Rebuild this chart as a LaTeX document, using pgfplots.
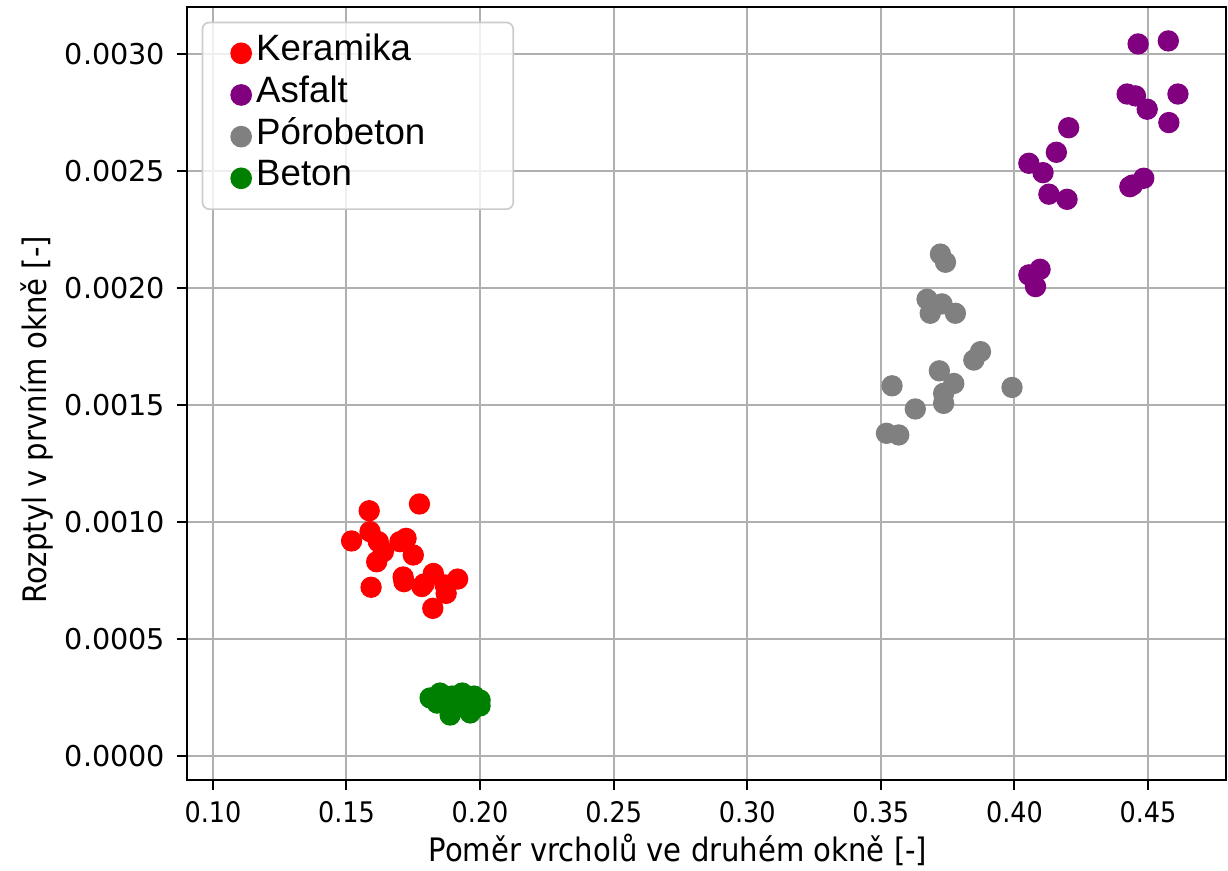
\documentclass[border=0pt]{standalone}
\usepackage{pgfplots}
\pgfplotsset{compat=1.18}
\usepackage{fontspec}
\setmainfont{DejaVu Sans}
\newfontfamily\cond{DejaVu Sans Condensed}
\newfontfamily\leg{Liberation Sans}
\definecolor{mred}{RGB}{255,0,0}
\definecolor{mpurple}{RGB}{128,0,128}
\definecolor{mgray}{RGB}{128,128,128}
\definecolor{mgreen}{RGB}{0,128,0}
\definecolor{gridc}{RGB}{176,176,176}
\begin{document}
\begin{tikzpicture}
\useasboundingbox (-56.1pt,-27.3pt) rectangle (312.3pt,234pt);
\begin{axis}[
  at={(0,0)}, anchor=south west,
  width=311.7pt, height=231.9pt, scale only axis,
  xmin=0.0903, xmax=0.4792, ymin=-0.0001026, ymax=0.003201,
  xtick={0.10,0.15,0.20,0.25,0.30,0.35,0.40,0.45},
  ytick={0,0.0005,0.0010,0.0015,0.0020,0.0025,0.0030},
  scaled x ticks=false, scaled y ticks=false,
  xticklabel style={/pgf/number format/fixed,/pgf/number format/fixed zerofill,/pgf/number format/precision=2, font=\cond\fontsize{8.5}{10}\selectfont},
  yticklabel style={/pgf/number format/fixed,/pgf/number format/fixed zerofill,/pgf/number format/precision=4, font=\fontsize{8.6}{10}\selectfont},
  /pgf/number format/assume math mode=true,
  tick align=outside, tick pos=left,
  major tick length=3pt,
  every tick/.style={black, line width=0.6pt},
  axis line style={black, line width=0.8pt},
  grid=major, major grid style={gridc, line width=0.6pt},
  xlabel={Poměr vrcholů ve druhém okně [-]},
  ylabel={Rozptyl v prvním okně [-]},
  label style={font=\cond\fontsize{9.7}{11}\selectfont},
  xlabel style={at={(axis description cs:0.4726,0)}, anchor=center, yshift=-21pt},
  ylabel style={at={(axis description cs:0,0.466)}, anchor=center, rotate=0, yshift=45pt},
  legend cell align=left,
  legend image code/.code={\draw[#1, fill opacity=1, draw opacity=1] plot coordinates {(0pt,0pt)};},
  legend style={at={(axis description cs:0,1)}, anchor=north west,
    xshift=4.4pt, yshift=-4.4pt,
    draw=black!20, line width=0.5pt, rounded corners=2pt,
    fill=white, fill opacity=0.8, text opacity=1,
    font=\leg\fontsize{11}{12}\selectfont,
    inner xsep=8.6pt, inner ysep=3pt, row sep=0pt, column sep=0pt,
    nodes={text height=8pt, text depth=3.5pt, inner ysep=0.5pt, inner xsep=1.5pt}},
  every axis plot/.append style={only marks, mark=*, mark size=3pt},
]
\addplot[mred, mark options={draw=mred, fill=mred}] coordinates {
(0.1519,0.000919) (0.1585,0.001048) (0.1773,0.001077) (0.1588,0.000959)
(0.1619,0.000916) (0.1638,0.000873) (0.1613,0.000830) (0.1700,0.000916)
(0.1723,0.000930) (0.1750,0.000859) (0.1712,0.000765) (0.1715,0.000745)
(0.1592,0.000721) (0.1825,0.000780) (0.1782,0.000724) (0.1790,0.000735)
(0.1873,0.000695) (0.1916,0.000756) (0.1869,0.000731) (0.1823,0.000631)
};
\addlegendentry{\makebox[67pt][l]{Keramika}}
\addplot[mpurple, mark options={draw=mpurple, fill=mpurple}] coordinates {
(0.4463,0.003043) (0.4576,0.003056) (0.4422,0.002829) (0.4453,0.002821)
(0.4497,0.002764) (0.4612,0.002829) (0.4578,0.002707) (0.4203,0.002685)
(0.4157,0.002580) (0.4054,0.002533) (0.4107,0.002493) (0.4129,0.002401)
(0.4197,0.002379) (0.4432,0.002433) (0.4442,0.002440) (0.4484,0.002469)
(0.4054,0.002056) (0.4096,0.002080) (0.4079,0.002006)
};
\addlegendentry{Asfalt}
\addplot[mgray, mark options={draw=mgray, fill=mgray}] coordinates {
(0.3723,0.002145) (0.3742,0.002110) (0.3673,0.001952) (0.3685,0.001892)
(0.3729,0.001932) (0.3779,0.001892) (0.3873,0.001728) (0.3848,0.001692)
(0.3719,0.001646) (0.3773,0.001592) (0.3735,0.001550) (0.3735,0.001507)
(0.3542,0.001582) (0.3991,0.001575) (0.3629,0.001483) (0.3521,0.001379)
(0.3567,0.001372)
};
\addlegendentry{Pórobeton}
\addplot[mgreen, mark options={draw=mgreen, fill=mgreen}] coordinates {
(0.1813,0.000248) (0.1850,0.000269) (0.1895,0.000256) (0.1933,0.000269)
(0.1978,0.000256) (0.2000,0.000239) (0.2000,0.000214) (0.1839,0.000226)
(0.1888,0.000175) (0.1963,0.000184) (0.1918,0.000226) (0.1869,0.000239)
};
\addlegendentry{Beton}
\end{axis}
\end{tikzpicture}
\end{document}
